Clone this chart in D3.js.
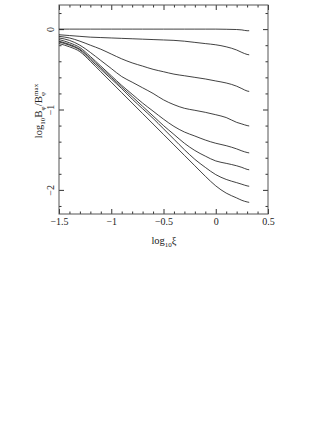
<!DOCTYPE html>
<html>
<head>
<meta charset="utf-8">
<script src="https://cdn.jsdelivr.net/npm/d3@7"></script>
<style>
  body { margin: 0; background: #fff; }
  svg { display: block; font-family: "Liberation Serif", "DejaVu Serif", serif; }
</style>
</head>
<body>
<div id="chart"></div>
<script>
// x 位置 (log10 ξ)
const xi = [-1.5, -1.4, -1.3, -1.2, -1.1, -1.0, -0.9, -0.8, -0.7, -0.6, -0.5,
            -0.4, -0.3, -0.2, -0.1, 0, 0.1, 0.2, 0.25, 0.3, 0.32];

// 各曲线 log10 Bφ/Bφmax
const curve1 = [0, 0, 0, 0, 0, 0, 0, 0, 0, 0, 0,
                0, 0, 0, 0, 0, -0.002, -0.005, -0.01, -0.02, -0.02];
const curve2 = [-0.07, -0.08, -0.09, -0.10, -0.105, -0.11, -0.115, -0.12, -0.125, -0.13, -0.135,
                -0.14, -0.15, -0.165, -0.18, -0.195, -0.22, -0.26, -0.29, -0.315, -0.32];
const curve3 = [-0.09, -0.11, -0.15, -0.20, -0.25, -0.31, -0.37, -0.42, -0.46, -0.50, -0.53,
                -0.56, -0.58, -0.60, -0.62, -0.645, -0.67, -0.71, -0.74, -0.77, -0.775];
const curve4 = [-0.11, -0.14, -0.20, -0.29, -0.39, -0.49, -0.59, -0.66, -0.73, -0.80, -0.88,
                -0.94, -0.985, -1.01, -1.035, -1.065, -1.10, -1.16, -1.18, -1.20, -1.205];
const curve5 = [-0.13, -0.17, -0.23, -0.34, -0.46, -0.58, -0.70, -0.81, -0.92, -1.02, -1.12,
                -1.21, -1.28, -1.33, -1.38, -1.42, -1.45, -1.49, -1.515, -1.535, -1.54];
const curve6 = [-0.15, -0.19, -0.25, -0.36, -0.48, -0.60, -0.72, -0.84, -0.96, -1.08, -1.20,
                -1.31, -1.42, -1.51, -1.58, -1.64, -1.67, -1.70, -1.72, -1.745, -1.75];
const curve7 = [-0.16, -0.20, -0.26, -0.38, -0.50, -0.62, -0.74, -0.87, -0.99, -1.11, -1.24,
                -1.37, -1.50, -1.62, -1.72, -1.81, -1.87, -1.91, -1.93, -1.95, -1.955];
const curve8 = [-0.18, -0.22, -0.28, -0.40, -0.53, -0.66, -0.79, -0.92, -1.05, -1.18, -1.31,
                -1.44, -1.57, -1.70, -1.83, -1.95, -2.04, -2.10, -2.13, -2.15, -2.155];

const allCurves = [curve1, curve2, curve3, curve4, curve5, curve6, curve7, curve8];

// 刻度
const xMinorTicks = d3.range(-15, 6).map(d => d / 10);
const xMajorTicks = [-1.5, -1, -0.5, 0, 0.5];
const yMinorTicks = d3.range(-11, 2).map(d => d / 5);
const yMajorTicks = [-2, -1, 0];

const width = 332, height = 430;
const plot = { left: 59, right: 268, top: 5, bottom: 214 };

const svg = d3.select('#chart').append('svg')
    .attr('width', width)
    .attr('height', height);

const x = d3.scaleLinear().domain([-1.5, 0.5]).range([plot.left, plot.right]);
const y = d3.scaleLinear().domain([-2.3, 0.3]).range([plot.bottom, plot.top]);

const isMajor = (list, d) => list.some(m => Math.abs(m - d) < 1e-6);
const fmt = d => (d < 0 ? '\u2212' : '') + Math.abs(d);

// 坐标轴（刻度向内）
const xBottom = svg.append('g')
    .attr('transform', `translate(0,${plot.bottom})`)
    .call(d3.axisBottom(x).tickValues(xMinorTicks).tickSize(0).tickPadding(4)
        .tickFormat(d => isMajor(xMajorTicks, d) ? fmt(d) : ''));
xBottom.selectAll('.tick line').attr('y2', d => isMajor(xMajorTicks, d) ? -5 : -2.5).attr('stroke', '#333');
xBottom.select('.domain').remove();
xBottom.selectAll('text').attr('font-size', 10).attr('font-family', 'Liberation Serif, serif').attr('fill', '#222');

const xTop = svg.append('g')
    .attr('transform', `translate(0,${plot.top})`)
    .call(d3.axisTop(x).tickValues(xMinorTicks).tickSize(0).tickFormat(''));
xTop.selectAll('.tick line').attr('y2', d => isMajor(xMajorTicks, d) ? 5 : 2.5).attr('stroke', '#333');
xTop.select('.domain').remove();

const yLeft = svg.append('g')
    .attr('transform', `translate(${plot.left},0)`)
    .call(d3.axisLeft(y).tickValues(yMinorTicks).tickSize(0)
        .tickFormat(d => isMajor(yMajorTicks, d) ? fmt(d) : ''));
yLeft.selectAll('.tick line').attr('x2', d => isMajor(yMajorTicks, d) ? 5 : 2.5).attr('stroke', '#333');
yLeft.select('.domain').remove();
yLeft.selectAll('text')
    .attr('x', 0).attr('dy', 0)
    .attr('text-anchor', 'middle')
    .attr('transform', 'translate(-5,0) rotate(-90)')
    .attr('font-size', 10).attr('font-family', 'Liberation Serif, serif').attr('fill', '#222');

const yRight = svg.append('g')
    .attr('transform', `translate(${plot.right},0)`)
    .call(d3.axisRight(y).tickValues(yMinorTicks).tickSize(0).tickFormat(''));
yRight.selectAll('.tick line').attr('x2', d => isMajor(yMajorTicks, d) ? -5 : -2.5).attr('stroke', '#333');
yRight.select('.domain').remove();

// 边框
svg.append('rect')
    .attr('x', plot.left).attr('y', plot.top)
    .attr('width', plot.right - plot.left).attr('height', plot.bottom - plot.top)
    .attr('fill', 'none').attr('stroke', '#555').attr('stroke-width', 1);

// 曲线
const line = d3.line()
    .x((d, i) => x(xi[i]))
    .y(d => y(d))
    .curve(d3.curveMonotoneX);

svg.selectAll('.curve')
    .data(allCurves)
    .enter()
    .append('path')
    .attr('class', 'curve')
    .attr('d', d => line(d))
    .attr('fill', 'none')
    .attr('stroke', '#111')
    .attr('stroke-width', 0.8);

// 轴标题
const xTitle = svg.append('text')
    .attr('x', 164).attr('y', 244)
    .attr('text-anchor', 'middle')
    .attr('font-size', 10.5)
    .attr('fill', '#222');
xTitle.append('tspan').text('log');
xTitle.append('tspan').attr('font-size', 7).attr('dy', 2.5).text('10');
xTitle.append('tspan').attr('dy', -2.5).text('\u03BE');

const yTitle = svg.append('text')
    .attr('transform', 'translate(42,111) rotate(-90)')
    .attr('text-anchor', 'middle')
    .attr('font-size', 10.5)
    .attr('fill', '#222');
yTitle.append('tspan').text('log');
yTitle.append('tspan').attr('font-size', 7).attr('dy', 2.5).text('10');
yTitle.append('tspan').attr('dy', -2.5).attr('font-size', 11).text('B');
yTitle.append('tspan').attr('font-size', 7).attr('dy', 2.5).text('\u03C6');
yTitle.append('tspan').attr('dy', -2.5).attr('font-size', 11).text('/B');
yTitle.append('tspan').attr('font-size', 7).attr('dy', 2.5).text('\u03C6');
yTitle.append('tspan').attr('font-size', 7).attr('dx', -4).attr('dy', -7).text('max');
</script>
</body>
</html>
